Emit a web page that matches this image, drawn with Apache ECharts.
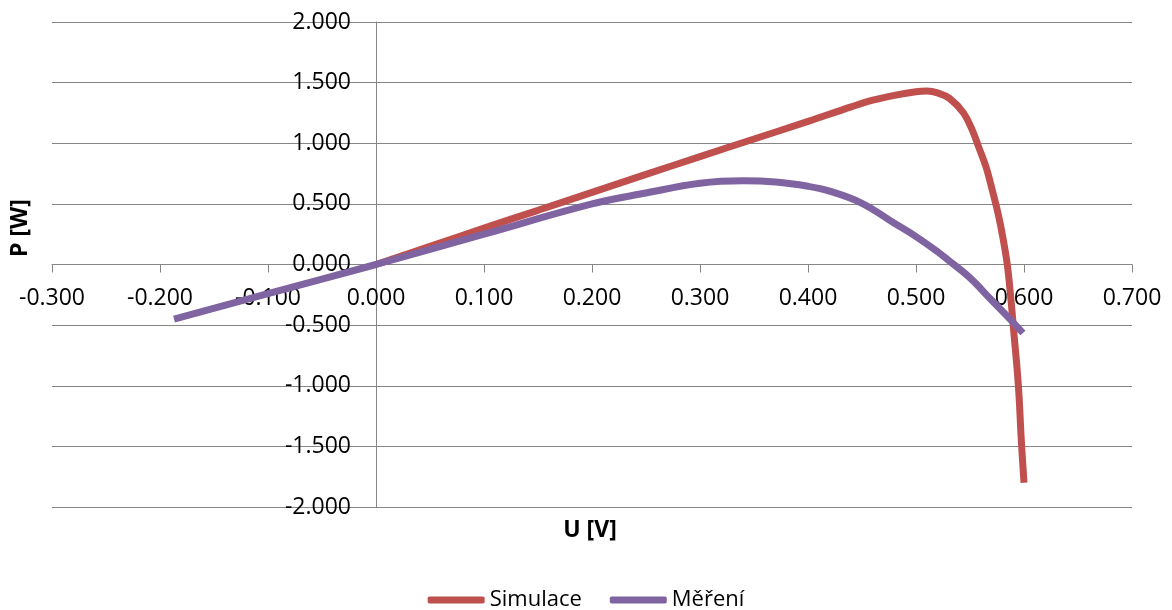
<!DOCTYPE html>
<html>
<head>
<meta charset="utf-8">
<script src="https://cdn.jsdelivr.net/npm/echarts@6/dist/echarts.min.js"></script>
<style>html,body{margin:0;padding:0;background:#fff}#c{width:1172px;height:610px}</style>
</head>
<body>
<div id="c"></div>
<script>
// Simulace (red)
var simU = [0, 0.05, 0.1, 0.15, 0.2, 0.25, 0.3, 0.35, 0.4, 0.44, 0.46, 0.48, 0.5, 0.51, 0.52, 0.531, 0.544, 0.552, 0.558, 0.565, 0.571, 0.576, 0.5805, 0.5845, 0.5875, 0.59, 0.5948, 0.5975, 0.6];
var simP = [0, 0.15, 0.30, 0.447, 0.595, 0.743, 0.89, 1.035, 1.18, 1.30, 1.355, 1.395, 1.425, 1.43, 1.415, 1.37, 1.25, 1.11, 0.97, 0.80, 0.60, 0.42, 0.22, 0.0, -0.25, -0.5, -1.0, -1.45, -1.80];
// Měření (purple)
var merU = [-0.187, -0.1, 0, 0.1, 0.2, 0.25, 0.3, 0.34, 0.37, 0.4, 0.42, 0.45, 0.48, 0.5, 0.52, 0.53, 0.55, 0.5685, 0.587, 0.599];
var merP = [-0.45, -0.24, 0, 0.25, 0.50, 0.59, 0.67, 0.69, 0.68, 0.645, 0.605, 0.505, 0.34, 0.23, 0.105, 0.035, -0.11, -0.28, -0.45, -0.565];
var xTicks = {min: -0.3, max: 0.7, step: 0.1};
var yTicks = {min: -2, max: 2, step: 0.5};
var seriesNames = ['Simulace', 'Měření'];
var axisNames = {x: 'U [V]', y: 'P [W]'};

function pairs(u, p) { return u.map(function (v, i) { return [v, p[i]]; }); }
function fmt(v) { return (Math.abs(v) < 1e-9 ? 0 : v).toFixed(3); }
var FONT = 'Open Sans';
var GRID = {left: 52, right: 40, top: 22, bottom: 103};
var chart = echarts.init(document.getElementById('c'));
chart.setOption({
  animation: false,
  grid: {left: GRID.left, right: GRID.right, top: GRID.top, bottom: GRID.bottom, containLabel: false, outerBoundsMode: 'none'},
  xAxis: {
    type: 'value', min: xTicks.min, max: xTicks.max, interval: xTicks.step,
    axisLine: {onZero: true, lineStyle: {color: '#868686', width: 1}},
    axisTick: {show: true, inside: false, length: 8, lineStyle: {color: '#868686'}},
    axisLabel: {margin: -220, color: '#000', fontFamily: FONT, fontSize: 23, showMinLabel: true, showMaxLabel: true, hideOverlap: false,
      formatter: fmt},
    splitLine: {show: false}
  },
  yAxis: {
    type: 'value', min: yTicks.min, max: yTicks.max, interval: yTicks.step,
    axisLine: {onZero: true, lineStyle: {color: '#868686', width: 1}},
    axisTick: {show: true, length: 8, lineStyle: {color: '#868686'}},
    axisLabel: {margin: -299, color: '#000', fontFamily: FONT, fontSize: 23, showMinLabel: true, showMaxLabel: true, hideOverlap: false,
      formatter: fmt},
    splitLine: {show: true, lineStyle: {color: '#868686', width: 1}}
  },
  legend: {
    bottom: -6, left: 'center', itemWidth: 57, itemHeight: 7, itemGap: 28, icon: 'roundRect',
    textStyle: {fontFamily: FONT, fontSize: 22, color: '#000'},
    data: seriesNames
  },
  graphic: [
    {type: 'text', x: 20, y: 228, rotation: Math.PI / 2,
      style: {text: axisNames.y, font: 'bold 23px "Open Sans"', fill: '#000', align: 'center', verticalAlign: 'middle'}},
    {type: 'text', x: 590, y: 530,
      style: {text: axisNames.x, font: 'bold 23px "Open Sans"', fill: '#000', align: 'center', verticalAlign: 'middle'}}
  ],
  series: [
    {name: seriesNames[0], type: 'line', data: pairs(simU, simP), symbol: 'none', smooth: 0.4,
      lineStyle: {color: '#C0504D', width: 7}, itemStyle: {color: '#C0504D'}},
    {name: seriesNames[1], type: 'line', data: pairs(merU, merP), symbol: 'none', smooth: 0.4,
      lineStyle: {color: '#8064A2', width: 7}, itemStyle: {color: '#8064A2'}}
  ]
});
</script>
</body>
</html>
